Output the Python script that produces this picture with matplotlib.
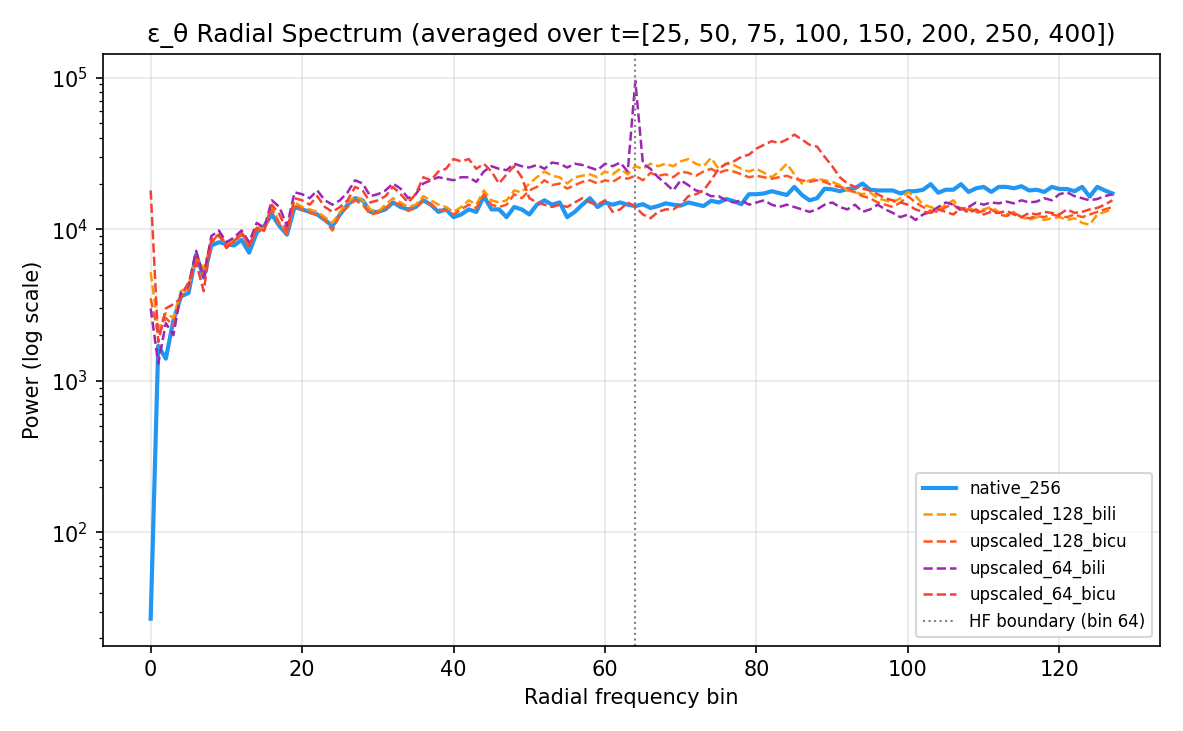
import matplotlib
matplotlib.use("Agg")
import matplotlib.pyplot as plt
import numpy as np

# 径向频谱数据
bins = np.arange(128)

native_256 = [
    27, 1700, 1400, 2500, 3600, 3800, 6800, 4800, 7800, 8200,
    8000, 7800, 8500, 7000, 9500, 10500, 12500, 10500, 9200, 14000,
    13500, 13000, 12500, 11500, 10500, 12500, 14500, 16000, 15500, 13000,
    13000, 13500, 15000, 14000, 13500, 14000, 15500, 14500, 13000, 13500,
    12000, 12500, 13500, 13000, 16500, 13500, 13500, 12000, 14000, 13500,
    12500, 14500, 15500, 14500, 15000, 12000, 13000, 14500, 16000, 14000,
    15000, 14500, 15000, 14500, 14200, 14600, 13800, 14200, 14800, 14500,
    14300, 15000, 14600, 14200, 15400, 15000, 15800, 15300, 14600, 17000,
    17000, 17200, 17800, 17300, 16800, 19000, 16800, 15500, 16000, 18500,
    18300, 17800, 18400, 18600, 20000, 18200, 18000, 18000, 18000, 17200,
    17800, 17800, 18200, 19800, 17400, 18200, 18200, 19800, 17600, 18600,
    19000, 17600, 19000, 19000, 18600, 19200, 18000, 18200, 17600, 19000,
    18400, 18400, 17800, 19000, 16400, 19000, 18000, 17200,
]

upscaled_128_bili = [
    5200, 2200, 2800, 2600, 3900, 4200, 6500, 5500, 8200, 9000,
    8000, 8500, 9500, 8000, 10500, 10000, 14000, 11000, 9500, 15000,
    14000, 13500, 13000, 12000, 11000, 13000, 15000, 16500, 15500, 13500,
    13000, 14500, 16000, 15000, 14000, 14500, 16500, 15500, 14500, 14000,
    13000, 14000, 15500, 14500, 18000, 15500, 15000, 15500, 18000, 17500,
    20000, 22000, 24000, 22500, 22000, 20000, 22000, 22500, 23000, 22000,
    24000, 23000, 25000, 23000, 26000, 25000, 27000, 26000, 27000, 26000,
    28000, 29000, 27000, 26000, 29500, 25000, 27000, 26500, 25000, 24000,
    25000, 23500, 22000, 24000, 27000, 23000, 20000, 21000, 21500, 21000,
    20500, 19500, 18000, 17500, 17000, 17500, 16000, 15500, 15000, 16000,
    17500, 16500, 14500, 14000, 13500, 14500, 15500, 13500, 14000, 13000,
    13500, 14000, 13000, 12500, 13000, 12000, 11500, 12000, 11500, 11800,
    12000, 11500, 11800, 11000, 10700, 12500, 13000, 13500,
]

upscaled_128_bicu = [
    3500, 2000, 2600, 2300, 3600, 4000, 6800, 5000, 8000, 9500,
    7800, 8200, 9200, 7600, 10000, 9800, 13500, 10800, 9300, 14500,
    13500, 12800, 12500, 11500, 9800, 12500, 14000, 15500, 14500, 12500,
    12800, 13800, 15000, 14500, 13200, 13800, 15500, 14500, 13500, 13200,
    12500, 13500, 14500, 13800, 17000, 14500, 14000, 14500, 17000, 16000,
    18000, 19000, 21000, 19500, 20000, 18500, 19500, 20500, 21000, 20000,
    21000, 20500, 22000, 21500, 22500, 21000, 23500, 22500, 23000, 22000,
    24000, 23500, 22500, 24000, 25000, 23500, 24500, 24000, 23000, 22000,
    22500, 22000, 21500, 22000, 22500, 21500, 21000, 20500, 21000, 20500,
    19500, 19000, 18500, 17500, 16500, 16000, 15000, 14500, 14000, 15000,
    16500, 15000, 14000, 13200, 13000, 14000, 14500, 13200, 13500, 12800,
    13200, 13500, 12500, 12200, 12800, 12000, 11800, 12200, 12000, 12500,
    12200, 12000, 12500, 12000, 12500, 13000, 13500, 14000,
]

upscaled_64_bili = [
    3000, 1300, 2400, 2000, 3800, 4300, 7200, 4800, 9000, 9800,
    8200, 8800, 9800, 8200, 11000, 10200, 15500, 14000, 10500, 17500,
    17000, 16000, 18000, 15500, 14500, 15500, 17500, 21000, 20000, 16500,
    17000, 18000, 20000, 18500, 16000, 17000, 20000, 21000, 22000, 21500,
    21000, 22000, 22000, 20500, 24000, 26000, 25000, 24500, 27000, 26000,
    25500, 26500, 25000, 27500, 27000, 25500, 27000, 26500, 25500, 24500,
    27000, 26000, 27500, 24000, 95000, 27000, 25000, 22000, 20000, 18000,
    21000, 19500, 18000, 17500, 16500, 16500, 15500, 15000, 15500, 14500,
    15000, 15500, 14500, 14000, 14500, 14000, 13500, 13000, 13500, 14500,
    15000, 14000, 13500, 14500, 13000, 13500, 14500, 13500, 12800, 12000,
    12500, 11500, 12500, 13000, 14000, 15000, 14500, 13500, 14000, 15000,
    14500, 15000, 14800, 15200, 14800, 15500, 15000, 15200, 16000, 15500,
    17000, 17500, 16500, 16000, 15500, 15800, 16500, 17000,
]

upscaled_64_bicu = [
    18000, 1800, 3000, 3200, 3500, 4500, 6000, 3900, 8500, 9200,
    7500, 8300, 9500, 7800, 10200, 9800, 14500, 12500, 9800, 16000,
    15500, 14500, 16500, 14000, 13000, 14000, 15500, 19000, 18000, 15000,
    15500, 16500, 19000, 17000, 15000, 17000, 22000, 21000, 24000, 25000,
    29000, 28000, 29000, 25000, 27000, 24000, 20000, 23000, 26000, 22000,
    16000, 15000, 14500, 14000, 14500, 14000, 15000, 16000, 15000, 14500,
    15500, 13000, 13500, 15000, 14000, 12500, 11800, 13000, 13500, 13500,
    14500, 16500, 17000, 18000, 21000, 25000, 27000, 28000, 30000, 31000,
    34000, 36000, 38000, 37000, 39000, 42000, 39000, 36000, 35000, 30000,
    26000, 22000, 20000, 19000, 18500, 18000, 17000, 16000, 15500, 15000,
    14500, 13500, 13000, 12800, 13500, 13000, 12500, 13800, 12800, 13500,
    12500, 13000, 12800, 13200, 12500, 12000, 12800, 12500, 13000, 12800,
    12500, 13500, 12800, 13000, 13500, 13800, 14500, 15500,
]

series = [
    ("native_256", native_256, "#2196F3", "-", 2.0),
    ("upscaled_128_bili", upscaled_128_bili, "#FF9800", "--", 1.2),
    ("upscaled_128_bicu", upscaled_128_bicu, "#FF5722", "--", 1.2),
    ("upscaled_64_bili", upscaled_64_bili, "#9C27B0", "--", 1.2),
    ("upscaled_64_bicu", upscaled_64_bicu, "#F44336", "--", 1.2),
]

fig, ax = plt.subplots(figsize=(1183 / 150, 731 / 150), dpi=150)

for name, vals, color, ls, lw in series:
    ax.plot(bins, vals, ls, color=color, linewidth=lw, label=name)

ax.axvline(64, color="gray", linestyle=":", linewidth=1, label="HF boundary (bin 64)")

ax.set_yscale("log")
ax.set_xlabel("Radial frequency bin")
ax.set_ylabel("Power (log scale)")
ax.set_title("ε_θ Radial Spectrum (averaged over t=[25, 50, 75, 100, 150, 200, 250, 400])")
ax.grid(True, alpha=0.3)
ax.legend(fontsize=8, loc="lower right")

plt.tight_layout()
plt.savefig("out.png", dpi=150)
